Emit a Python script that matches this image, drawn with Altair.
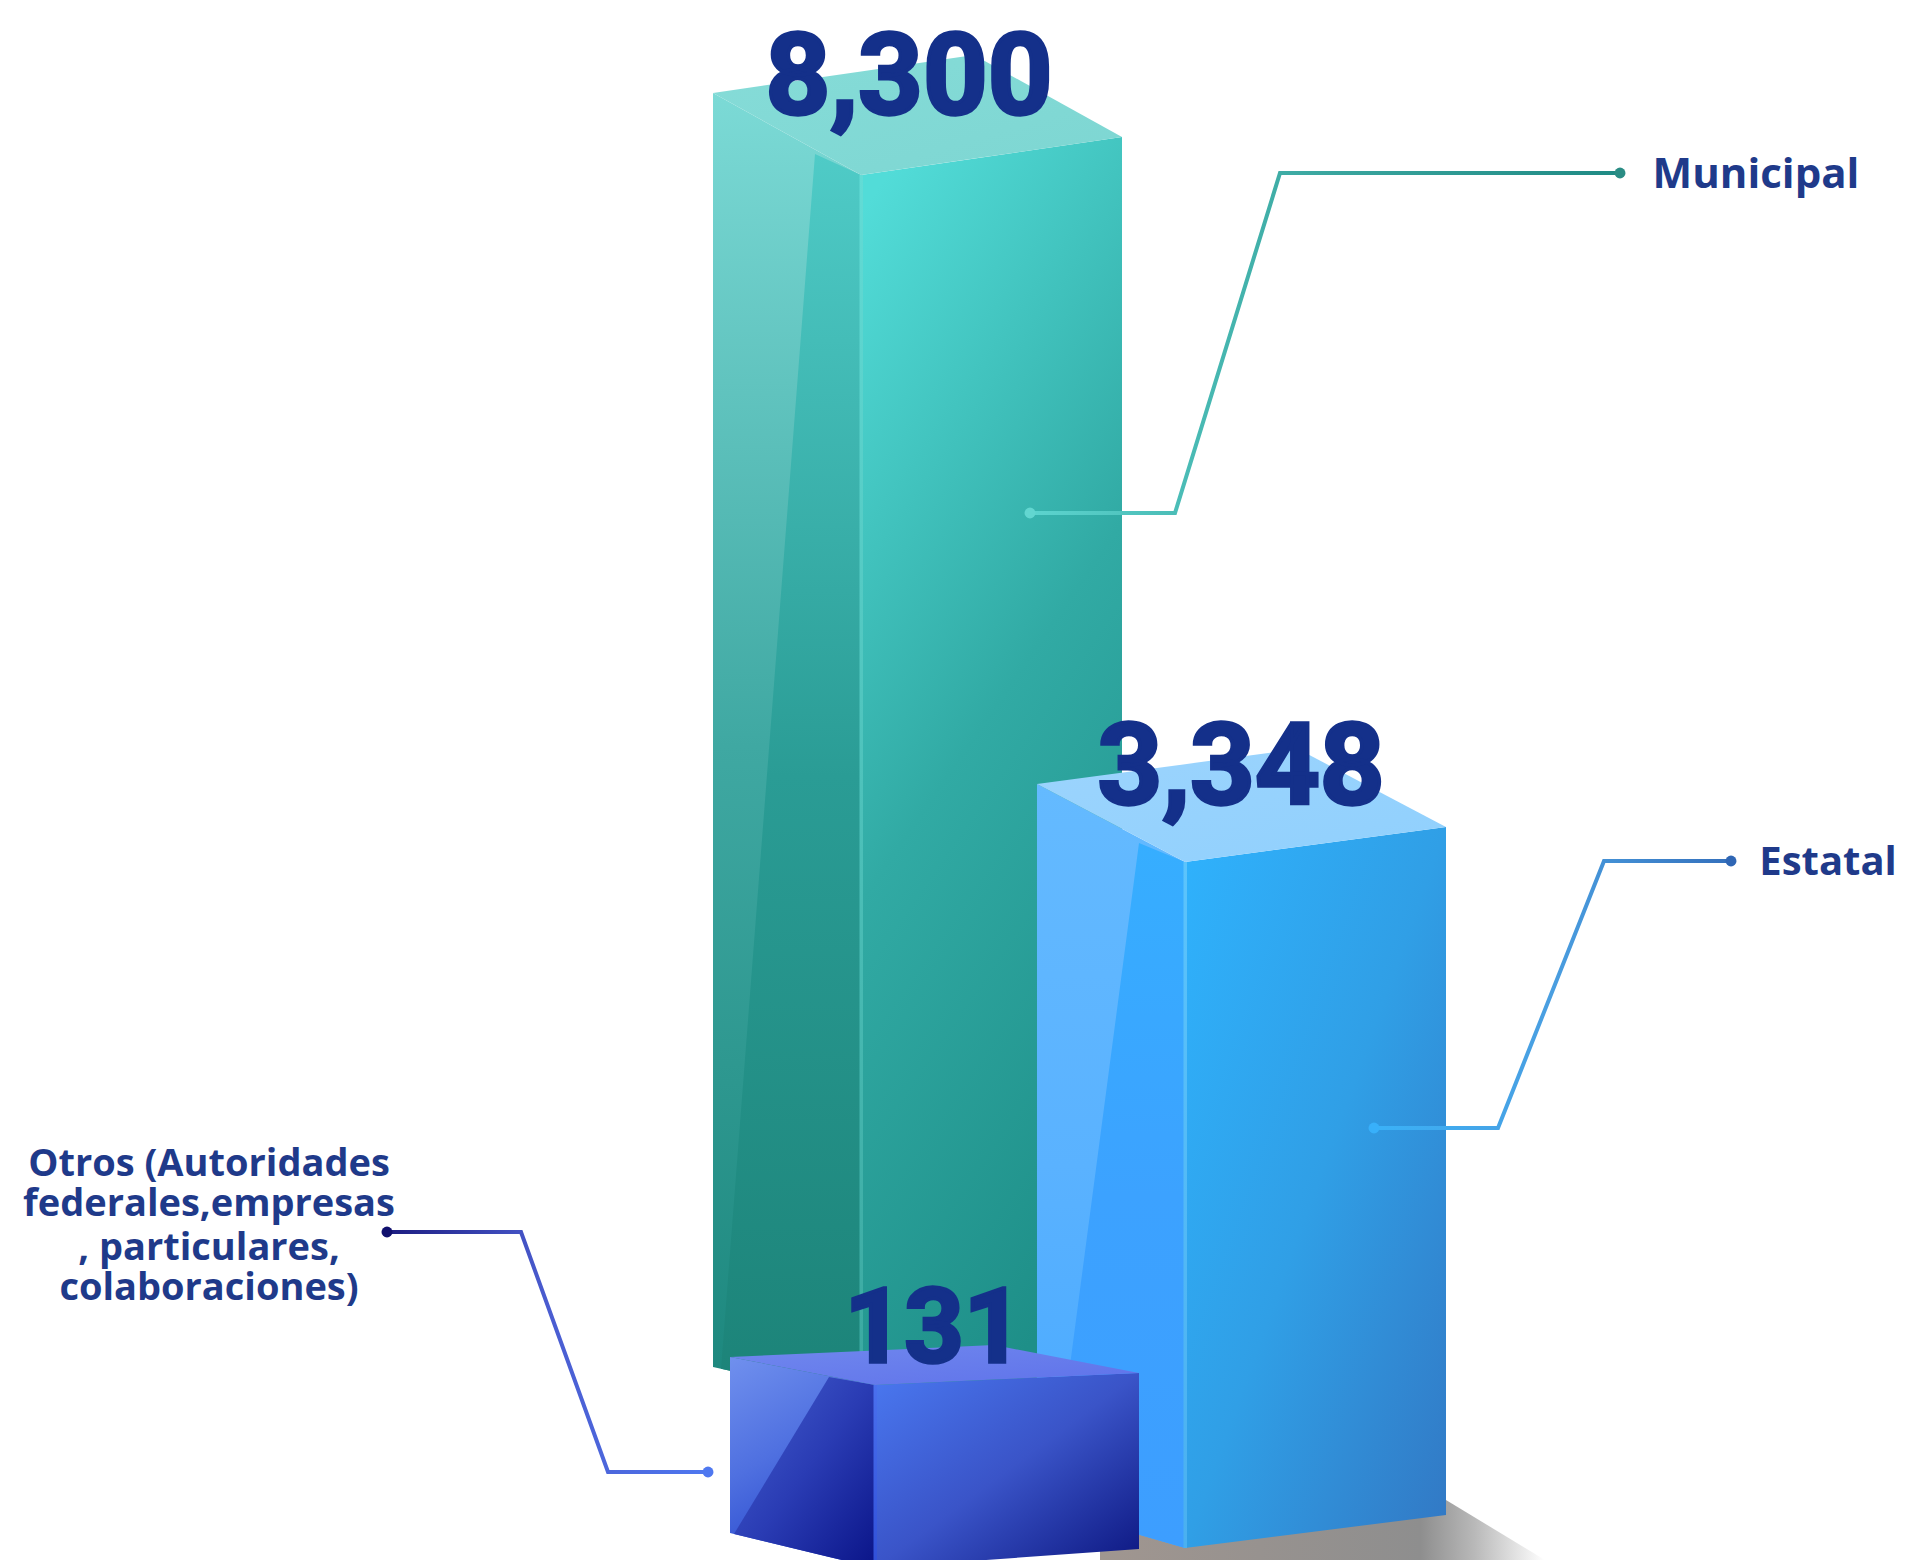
import altair as alt
import numpy as np
import pandas as pd

CATEGORIES = ["Municipal", "Estatal", "Otros"]
VALUES = [8300, 3348, 131]

# Picture calibration: the drawing's perspective is not linear in the value.
CAL_VALUES = [131, 3348, 8300]
CAL_TOPS = [1385, 862, 175]

W, H = 1906, 1560
XS = alt.Scale(domain=[8, W - 8], range=[0, W - 16], nice=False, zero=False)
YS = alt.Scale(domain=[H, 8], range=[H - 8, 0], nice=False, zero=False)


def grad(x1, y1, x2, y2, *stops):
    n = len(stops) - 1
    return alt.Gradient(
        gradient="linear", x1=x1, y1=y1, x2=x2, y2=y2,
        stops=[alt.GradientStop(offset=(s[1] if isinstance(s, tuple) else i / n),
                                color=(s[0] if isinstance(s, tuple) else s))
               for i, s in enumerate(stops)],
    )


def poly_table(poly):
    xs = sorted({p[0] for p in poly})
    rows = []
    n = len(poly)
    for x in xs:
        hits = []
        for i in range(n):
            (xa, ya), (xb, yb) = poly[i], poly[(i + 1) % n]
            if min(xa, xb) <= x <= max(xa, xb):
                if xa == xb:
                    hits += [ya, yb]
                else:
                    hits.append(ya + (yb - ya) * (x - xa) / (xb - xa))
        rows.append({"x": x, "y": min(hits), "y2": max(hits)})
    return pd.DataFrame(rows)


def face(poly, fill, opacity=1.0):
    return alt.Chart(poly_table(poly)).mark_area(
        color=fill, opacity=opacity, clip=True, interpolate="linear"
    ).encode(
        x=alt.X("x:Q", scale=XS, axis=None),
        y=alt.Y("y:Q", scale=YS, axis=None),
        y2="y2:Q",
    )


def box(value, L, F, R, dl, dr, bl, bf, br, rx, style):
    tf = float(np.interp(value, CAL_VALUES, CAL_TOPS))
    tl, tr = tf - dl, tf - dr
    back = (L + R - F, tl + tr - tf)
    rbx = style["rbx"]
    rb = bl + (bf - bl) * rbx / (F - L)
    return [
        face([(L, tl), (F, tf), (F, bf), (L, bl)], style["light"]),
        face([(rx, tf - dl + style["rdy"]), (F, tf), (F, bf), (L + rbx, rb)], style["dark"]),
        face([(F, tf), (R, tr), (R, br), (F, bf)], style["front"]),
        face([(L, tl), back, (R, tr), (F, tf)], style["top"]),
        face([(F - 1.5, tf), (F + 2, tf), (F + 2, bf), (F - 1.5, bf)], style["edge"]),
    ]


muni = dict(
    light=grad(0, 0, 0, 1, "#7cdad6", "#3fa8a2", "#1c877d"),
    dark=grad(0, 0, 0, 1, "#4fcbc7", "#2a9c95", "#1c8378"),
    front=grad(0.2, 0, 0.5, 1, "#52dcd8", "#31aaa4", "#1e8f88"),
    top=grad(0, 0, 1, 1, "#86dcd8", "#7dd6d2"),
    edge=grad(0, 0, 0, 1, "#62dcd6", "#3aa8a0"),
    rdy=61, rbx=8,
)
esta = dict(
    light=grad(0, 0, 0, 1, "#64baff", "#5ab2ff", "#46a8ff"),
    dark=grad(0, 0, 0, 1, "#36aeff", "#3ca2ff", "#3d9eff"),
    front=grad(0, 0, 1, 1, "#2fb2fd", "#309fe6", "#3278c4"),
    top=grad(0, 0, 1, 1, "#9cd4fd", "#90d0fd"),
    edge=grad(0, 0, 0, 1, "#5cc4fc", "#4ab0f0"),
    rdy=59, rbx=14,
)
otro = dict(
    light=grad(0, 0, 0.4, 1, "#7090ee", "#4f70e0", "#2646cc"),
    dark=grad(0, 0, 1, 1, "#4660d0", "#2a3cb4", "#0a1488"),
    front=grad(0, 0, 1, 1, "#4a78f0", "#3a54c8", "#0c1680"),
    top=grad(0, 0, 1, 1, "#7088ee", "#5f72ea"),
    edge=grad(0, 0, 0, 1, "#4a70ee", "#3050d8"),
    rdy=20, rbx=4,
)

layers = []
layers += box(VALUES[0], 713, 861, 1122, 82, 38, 1367, 1400, 1367, 815, muni)
shadow = grad(0, 0, 1, 0, ("#a09690", 0.0), ("#8e8e8e", 0.72), ("#b8b8b8", 0.84), ("#ffffff", 1.0))
layers.append(face([(1100, 1530), (1446, 1500), (1545, 1560), (1100, 1560)], shadow))
layers += box(VALUES[1], 1037, 1185, 1446, 78, 35, 1505, 1548, 1515, 1139, esta)
layers += box(VALUES[2], 730, 875, 1139, 28, 12, 1533, 1568, 1549, 829, otro)

# leader lines
leaders = [
    ([1030, 1175, 1280, 1620], [513, 513, 173, 173],
     grad(0, 0, 1, 0, "#5cd4cf", "#3aa69f", "#1f8a84"), "#62d6d0", "#2a8c84"),
    ([1374, 1498, 1604, 1731], [1128, 1128, 861, 861],
     grad(0, 0, 1, 0, "#3ab2f8", "#4a9ee0", "#3470bc"), "#38b0fa", "#2f66b4"),
    ([387, 521, 608, 708], [1232, 1232, 1472, 1472],
     grad(0, 0, 1, 0, "#1c1c80", "#4a5cd0", "#4f78f0"), "#10106e", "#4f78f0"),
]
for lx, ly, stroke, c0, c1 in leaders:
    d = pd.DataFrame({"x": lx, "y": ly, "o": range(len(lx))})
    layers.append(alt.Chart(d).mark_line(stroke=stroke, strokeWidth=4, interpolate="linear").encode(
        x=alt.X("x:Q", scale=XS, axis=None),
        y=alt.Y("y:Q", scale=YS, axis=None),
        order="o:Q",
    ))
    ends = pd.DataFrame({"x": [lx[0], lx[-1]], "y": [ly[0], ly[-1]], "c": [c0, c1]})
    layers.append(alt.Chart(ends).mark_circle(size=120, opacity=1).encode(
        x=alt.X("x:Q", scale=XS, axis=None),
        y=alt.Y("y:Q", scale=YS, axis=None),
        color=alt.Color("c:N", scale=None),
    ))

# value labels
val_df = pd.DataFrame({
    "t": [f"{v:,}" for v in VALUES],
    "x": [909, 1241, 934],
    "y": [114, 804, 1362],
    "s": [113, 113, 104],
})
layers.append(alt.Chart(val_df).mark_text(
    font="Roboto", fontWeight="bold",
    color="#14308a", stroke="#14308a", strokeWidth=3.5, align="center", baseline="alphabetic",
).encode(
    x=alt.X("x:Q", scale=XS, axis=None),
    y=alt.Y("y:Q", scale=YS, axis=None),
    size=alt.Size("s:Q", scale=None),
    text="t:N",
))

# category labels
cat_df = pd.DataFrame({
    "t": [CATEGORIES[0], CATEGORIES[1], "Otros (Autoridades", "federales,empresas", ", particulares,", "colaboraciones)"],
    "x": [1756, 1828, 209, 209, 209, 209],
    "y": [188, 875, 1176, 1216, 1260, 1300],
    "s": [42, 40, 38, 38, 38, 38],
})
layers.append(alt.Chart(cat_df).mark_text(
    font="Open Sans", fontWeight="bold",
    color="#1f3a8a", align="center", baseline="alphabetic",
).encode(
    x=alt.X("x:Q", scale=XS, axis=None),
    y=alt.Y("y:Q", scale=YS, axis=None),
    size=alt.Size("s:Q", scale=None),
    text="t:N",
))

chart = alt.layer(*layers).properties(
    width=W - 16, height=H - 8, padding=0,
    autosize=alt.AutoSizeParams(type="none"), background="white",
).configure_view(stroke=None)

chart.save("out.html", embed_options={"renderer": "svg", "actions": False})
